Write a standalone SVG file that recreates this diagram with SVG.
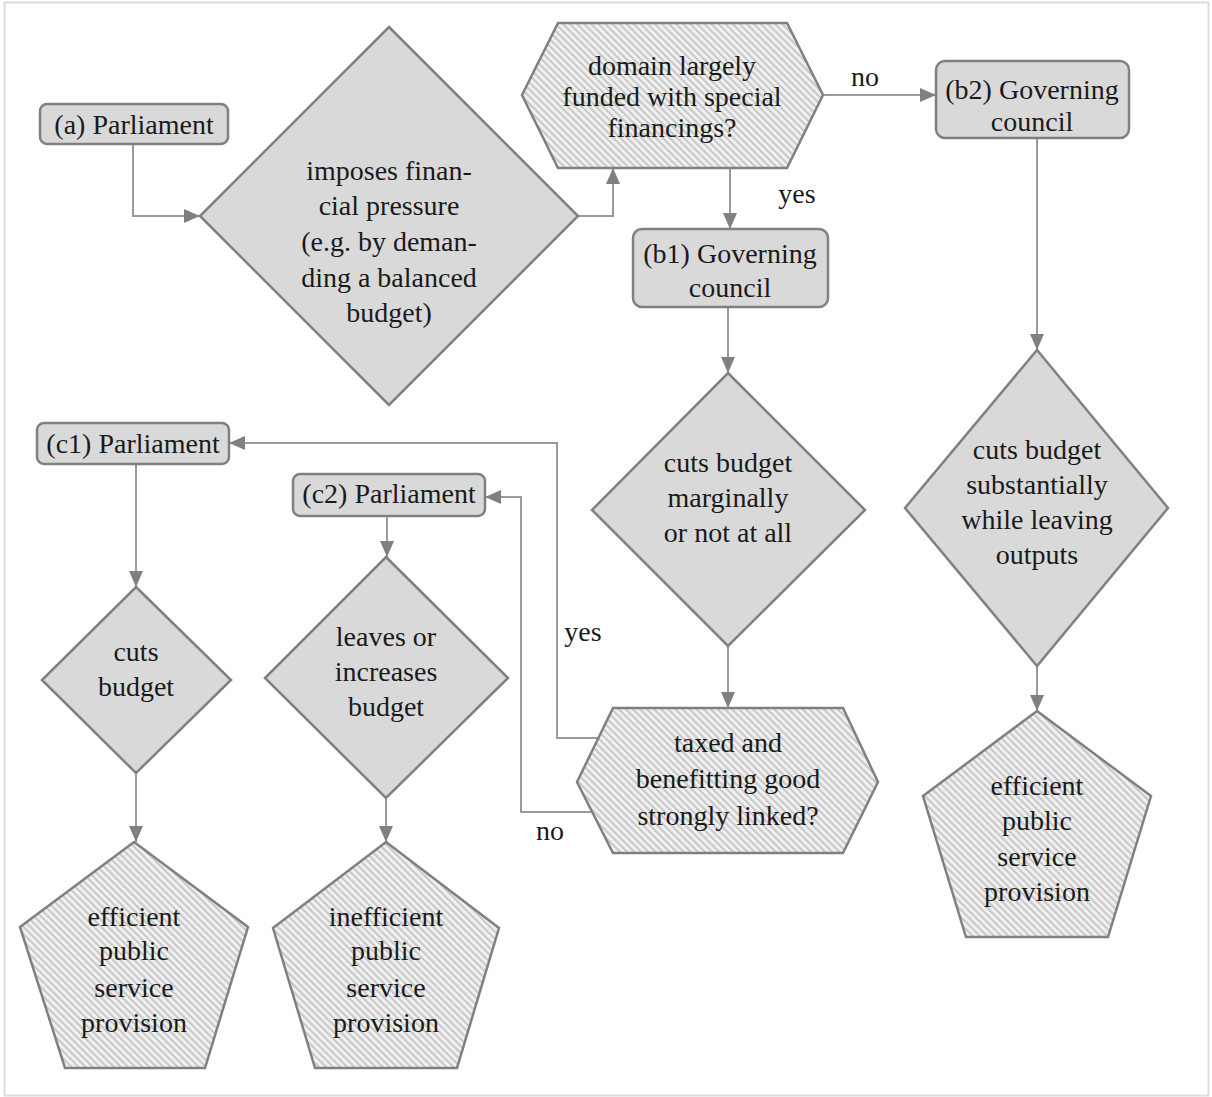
<svg xmlns="http://www.w3.org/2000/svg" width="1212" height="1097" viewBox="0 0 1212 1097">
<style>
text{font-family:'Liberation Serif','Times New Roman',serif;font-size:28px;fill:#1a1a1a;text-anchor:middle}
.box{fill:#d9d9d9;stroke:#808080;stroke-width:2.5}
.dia{fill:#d9d9d9;stroke:#808080;stroke-width:2.5}
.hat{fill:url(#hatch);stroke:#808080;stroke-width:2.5}
.con{fill:none;stroke:#9a9a9a;stroke-width:2}
</style>
<defs>
<pattern id="hatch" width="5" height="5" patternUnits="userSpaceOnUse" patternTransform="rotate(-45)">
<rect width="5" height="5" fill="#f2f2f2"/>
<rect width="2.2" height="5" fill="#c9c9c9"/>
</pattern>
<marker id="arr" viewBox="0 0 16 14" refX="16" refY="7" markerWidth="16" markerHeight="14" markerUnits="userSpaceOnUse" orient="auto">
<path d="M0,0 L16,7 L0,14 Z" fill="#808080"/>
</marker>
</defs>
<rect x="4.5" y="2.5" width="1204" height="1093" fill="#ffffff" stroke="#dcdcdc" stroke-width="2"/>
<g id="connectors">
<path class="con" d="M133,144 V216 H200" marker-end="url(#arr)"/>
<path class="con" d="M578,216 H613 V168" marker-end="url(#arr)"/>
<path class="con" d="M823,95 H936" marker-end="url(#arr)"/>
<path class="con" d="M730,168 V229" marker-end="url(#arr)"/>
<path class="con" d="M1037,138 V350" marker-end="url(#arr)"/>
<path class="con" d="M728,307 V373" marker-end="url(#arr)"/>
<path class="con" d="M1037,666 V711" marker-end="url(#arr)"/>
<path class="con" d="M728,646 V708" marker-end="url(#arr)"/>
<path class="con" d="M598,738 H557 V443 H229" marker-end="url(#arr)"/>
<path class="con" d="M592,812 H521 V497 H485" marker-end="url(#arr)"/>
<path class="con" d="M136,464 V587" marker-end="url(#arr)"/>
<path class="con" d="M387,516 V557" marker-end="url(#arr)"/>
<path class="con" d="M136,773 V842" marker-end="url(#arr)"/>
<path class="con" d="M386,798 V842" marker-end="url(#arr)"/>
<text x="865" y="86">no</text>
<text x="797" y="203">yes</text>
<text x="583" y="641">yes</text>
<text x="550" y="840">no</text>
</g>
<g id="a">
<rect class="box" x="40" y="104" width="188" height="40" rx="7"/>
<text x="134" y="134">(a) Parliament</text>
</g>
<g id="d-pressure">
<polygon class="dia" points="389,27 578,216 389,405 200,216"/>
<text x="389" y="180">imposes finan-</text>
<text x="389" y="215">cial pressure</text>
<text x="389" y="251">(e.g. by deman-</text>
<text x="389" y="287">ding a balanced</text>
<text x="389" y="322">budget)</text>
</g>
<g id="h-domain">
<polygon class="hat" points="522,95 558,23 787,23 823,95 787,168 558,168"/>
<text x="672" y="75">domain largely</text>
<text x="672" y="106">funded with special</text>
<text x="672" y="137">financings?</text>
</g>
<g id="b2">
<rect class="box" x="936" y="61" width="193" height="77" rx="9"/>
<text x="1032" y="99">(b2) Governing</text>
<text x="1032" y="131">council</text>
</g>
<g id="b1">
<rect class="box" x="633" y="229" width="195" height="78" rx="9"/>
<text x="730" y="263">(b1) Governing</text>
<text x="730" y="297">council</text>
</g>
<g id="d-marginal">
<polygon class="dia" points="728,373 865,510 728,646 592,510"/>
<text x="728" y="472">cuts budget</text>
<text x="728" y="507">marginally</text>
<text x="728" y="542">or not at all</text>
</g>
<g id="d-substantial">
<polygon class="dia" points="1037,350 1168,508 1037,666 905,508"/>
<text x="1037" y="459">cuts budget</text>
<text x="1037" y="494">substantially</text>
<text x="1037" y="529">while leaving</text>
<text x="1037" y="564">outputs</text>
</g>
<g id="p-right">
<polygon class="hat" points="1037,711 1151,796 1108,937 966,937 923,796"/>
<text x="1037" y="795">efficient</text>
<text x="1037" y="830">public</text>
<text x="1037" y="866">service</text>
<text x="1037" y="901">provision</text>
</g>
<g id="h-linked">
<polygon class="hat" points="577,782 613,708 843,708 878,782 843,853 613,853"/>
<text x="728" y="752">taxed and</text>
<text x="728" y="788">benefitting good</text>
<text x="728" y="825">strongly linked?</text>
</g>
<g id="c1">
<rect class="box" x="37" y="423" width="192" height="41" rx="7"/>
<text x="133" y="453">(c1) Parliament</text>
</g>
<g id="c2">
<rect class="box" x="293" y="474" width="192" height="42" rx="7"/>
<text x="389" y="503">(c2) Parliament</text>
</g>
<g id="d-cuts">
<polygon class="dia" points="136,587 231,680 136,773 42,680"/>
<text x="136" y="661">cuts</text>
<text x="136" y="696">budget</text>
</g>
<g id="d-leaves">
<polygon class="dia" points="386,557 508,678 386,798 265,678"/>
<text x="386" y="646">leaves or</text>
<text x="386" y="681">increases</text>
<text x="386" y="716">budget</text>
</g>
<g id="p-eff">
<polygon class="hat" points="134,842 248,927 205,1068 65,1068 20,927"/>
<text x="134" y="926">efficient</text>
<text x="134" y="960">public</text>
<text x="134" y="997">service</text>
<text x="134" y="1032">provision</text>
</g>
<g id="p-ineff">
<polygon class="hat" points="386,842 499,928 457,1068 315,1068 273,928"/>
<text x="386" y="926">inefficient</text>
<text x="386" y="960">public</text>
<text x="386" y="997">service</text>
<text x="386" y="1032">provision</text>
</g>
</svg>
